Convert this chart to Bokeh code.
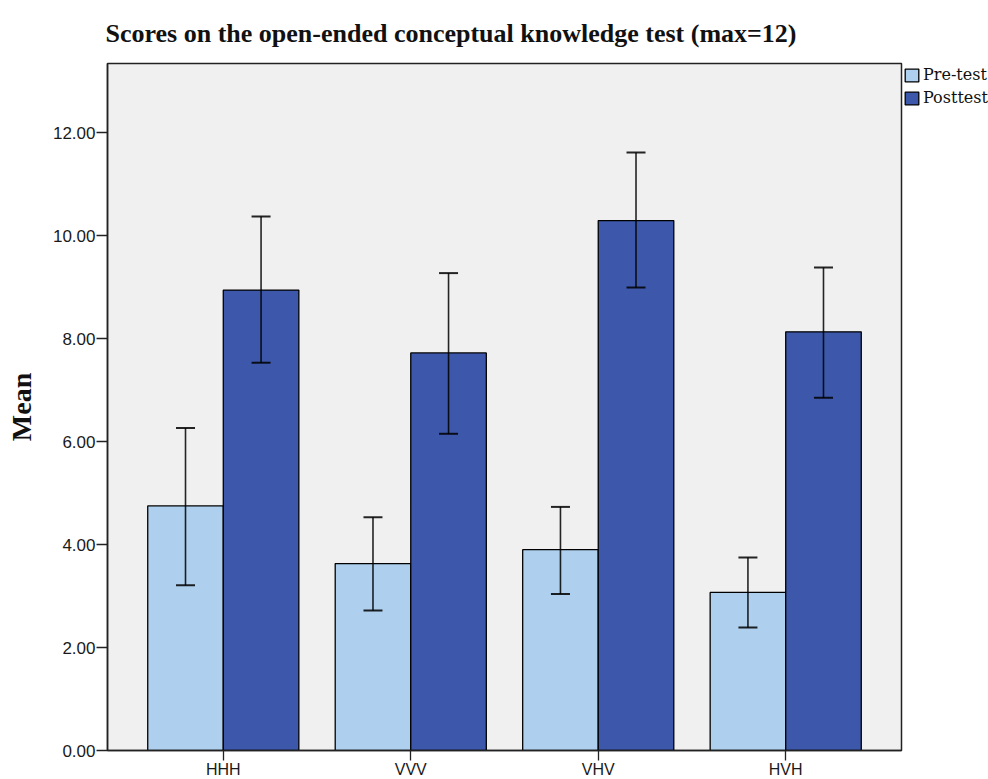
from bokeh.plotting import figure
from bokeh.models import (FactorRange, Range1d, Whisker, TeeHead, ColumnDataSource,
                          Legend, LegendItem, FixedTicker, NumeralTickFormatter)
from bokeh.transform import dodge
from bokeh.embed import file_html
from bokeh.resources import INLINE

# Mean scores with 95% CI bounds per condition
groups = ["HHH", "VVV", "VHV", "HVH"]
series = ["Pre-test", "Posttest"]
pre_mean = [4.75, 3.63, 3.90, 3.07]
pre_low = [3.21, 2.72, 3.04, 2.39]
pre_high = [6.26, 4.53, 4.73, 3.75]
post_mean = [8.94, 7.72, 10.29, 8.13]
post_low = [7.53, 6.15, 8.99, 6.85]
post_high = [10.37, 9.27, 11.61, 9.38]
y_ticks = [0, 2, 4, 6, 8, 10, 12]

PRE_COLOR = "#aed0ee"
POST_COLOR = "#3d58ab"
BAR_W = 0.403
OFF = BAR_W / 2

src = ColumnDataSource(dict(group=groups,
                            pre_mean=pre_mean, pre_low=pre_low, pre_high=pre_high,
                            post_mean=post_mean, post_low=post_low, post_high=post_high))

p = figure(x_range=FactorRange(factors=groups, range_padding=0.0588),
           y_range=Range1d(0, 13.34),
           frame_width=794, frame_height=687,
           min_border_left=107, min_border_right=87, min_border_top=63, min_border_bottom=29,
           output_backend="svg", toolbar_location=None,
           title="Scores on the open-ended conceptual knowledge test (max=12)")

p.border_fill_color = "white"
p.background_fill_color = "#f0f0f0"
p.outline_line_color = "#222222"
p.outline_line_width = 1.5
p.grid.visible = False

p.title.text_font = "Liberation Serif"
p.title.text_font_style = "bold"
p.title.text_font_size = "26px"
p.title.text_color = "#111111"
p.title.align = "left"
p.title.offset = -2
p.title.standoff = 31

pre_r = p.vbar(x=dodge("group", -OFF, range=p.x_range), top="pre_mean", width=BAR_W,
               source=src, fill_color=PRE_COLOR, line_color="black", line_width=1.3)
post_r = p.vbar(x=dodge("group", OFF, range=p.x_range), top="post_mean", width=BAR_W,
                source=src, fill_color=POST_COLOR, line_color="black", line_width=1.3)

# confidence-interval whiskers drawn over the bars
for key, off in (("pre", -OFF), ("post", OFF)):
    w = Whisker(base=dodge("group", off, range=p.x_range),
                lower=f"{key}_low", upper=f"{key}_high", source=src, level="overlay",
                line_color="black", line_alpha=0.85, line_width=1.6,
                upper_head=TeeHead(size=19, line_color="black", line_alpha=0.85, line_width=2),
                lower_head=TeeHead(size=19, line_color="black", line_alpha=0.85, line_width=2))
    p.add_layout(w)

# y axis
p.yaxis.ticker = FixedTicker(ticks=y_ticks)
p.yaxis.formatter = NumeralTickFormatter(format="0.00")
p.yaxis.axis_label = "Mean"
p.yaxis.axis_label_text_font = "Liberation Serif"
p.yaxis.axis_label_text_font_style = "bold"
p.yaxis.axis_label_text_font_size = "28px"
p.yaxis.axis_label_text_color = "#111111"
p.yaxis.axis_label_standoff = 13
p.yaxis.major_label_text_font = "Liberation Sans"
p.yaxis.major_label_text_font_size = "17px"
p.yaxis.major_label_text_color = "#1a1a1a"
p.yaxis.major_label_standoff = 1
p.yaxis.minor_tick_line_color = None
p.yaxis.major_tick_in = 0
p.yaxis.major_tick_out = 11

# x axis
p.xaxis.major_label_text_font = "Liberation Sans"
p.xaxis.major_label_text_font_size = "16px"
p.xaxis.major_label_text_color = "#1a1a1a"
p.xaxis.major_label_standoff = 0
p.xaxis.major_tick_in = 0
p.xaxis.major_tick_out = 10
for ax in (p.xaxis, p.yaxis):
    ax.axis_line_color = "#222222"
    ax.axis_line_width = 1.5
    ax.major_tick_line_color = "#222222"
    ax.major_tick_line_width = 1.3

legend = Legend(items=[LegendItem(label=series[0], renderers=[pre_r]),
                       LegendItem(label=series[1], renderers=[post_r])],
                location="top_left", orientation="vertical")
legend.label_text_font = "DejaVu Serif"
legend.label_text_font_size = "16px"
legend.label_text_color = "#111111"
legend.glyph_width = 17
legend.glyph_height = 16
legend.label_height = 16
legend.label_standoff = 3
legend.spacing = 4
legend.padding = 0
legend.margin = 2
legend.border_line_alpha = 0
legend.background_fill_alpha = 0
p.add_layout(legend, "right")

open("out.html", "w").write(file_html(p, INLINE))
